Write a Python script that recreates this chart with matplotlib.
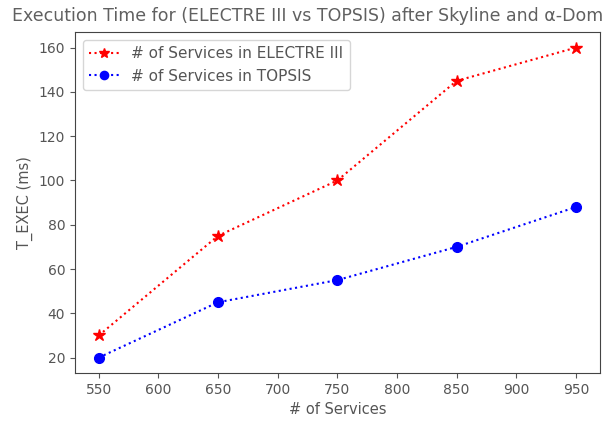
import numpy as np
import matplotlib.pyplot as plt

# data
services = [550, 650, 750, 850, 950]
electre = [30, 75, 100, 145, 160]
topsis = [20, 45, 55, 70, 88]

txt = "#555555"
plt.rcParams['text.color'] = txt
plt.rcParams['axes.labelcolor'] = txt
plt.rcParams['xtick.color'] = txt
plt.rcParams['ytick.color'] = txt

fig = plt.figure(figsize=(6.04, 4.23), dpi=100)
ax = fig.add_axes([0.124, 0.118, 0.869, 0.806])

ax.plot(services, electre, 'r:*', markersize=9, label="# of Services in ELECTRE III")
ax.plot(services, topsis, 'b:o', markersize=7, label="# of Services in TOPSIS")

ax.set_xticks([550, 600, 650, 700, 750, 800, 850, 900, 950])
ax.set_yticks([20, 40, 60, 80, 100, 120, 140, 160])
ax.tick_params(labelsize=10)
for s in ax.spines.values():
    s.set_color("#444444")

# the title runs off the right edge in the original, only this part is visible
fig.text(12 / 604, 1 - 16 / 423, "Execution Time for (ELECTRE III vs TOPSIS) after Skyline and α-Dom",
         fontsize=12.5, ha="left", va="center", color="#606060")
ax.set_xlabel("# of Services", fontsize=10.5)
ax.set_ylabel("T_EXEC (ms)", fontsize=10.5)
ax.legend(loc="upper left", fontsize=11, markerscale=0.85)

plt.savefig("out.png", dpi=100)
